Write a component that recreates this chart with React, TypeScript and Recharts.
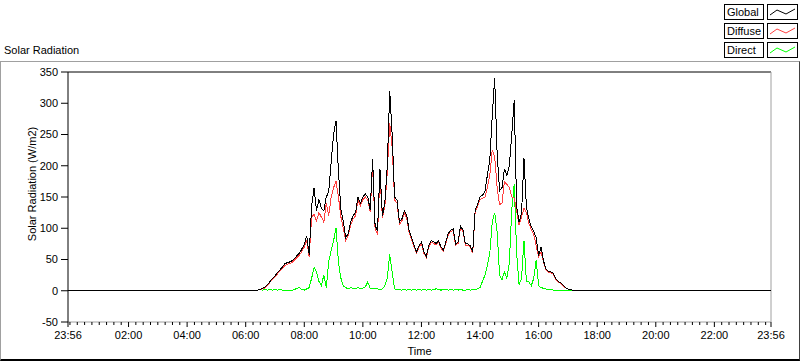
import React from 'react';
import { LineChart, Line, XAxis, YAxis, ReferenceLine } from 'recharts';

// minutes after midnight, 5 min samples from 06:00
const START_MIN = 360;
const STEP_MIN = 5;
const DAY_START = -4; // 23:56 of previous day
const DAY_END = 1436; // 23:56

const globalVals = [
  0, 0, 0, 0, 1, 1, 2, 4, 6, 10,
  15, 20, 24, 29, 33, 38, 43, 45, 46, 48,
  52, 56, 60, 67, 74, 88, 58, 135, 165, 128,
  146, 132, 128, 150, 158, 205, 250, 272, 190, 130,
  110, 85, 92, 110, 120, 125, 150, 140, 150, 155,
  150, 130, 210, 105, 95, 195, 120, 140, 200, 320,
  250, 150, 145, 110, 115, 128, 120, 95, 85, 72,
  62, 72, 78, 62, 55, 72, 80, 78, 76, 80,
  70, 65, 78, 92, 97, 99, 75, 78, 104, 97,
  75, 75, 72, 62, 129, 138, 150, 153, 158, 185,
  210, 280, 340, 220, 160, 165, 195, 185, 200, 250,
  305, 135, 110, 124, 212, 134, 115, 102, 95, 85,
  56, 70, 48, 35, 31, 30, 28, 19, 15, 13,
  9, 5, 3, 2, 1, 0, 0,
];

const diffuseVals = [
  0, 0, 0, 0, 0, 1, 2, 3, 5, 9,
  14, 18, 22, 27, 31, 36, 40, 42, 44, 45,
  49, 53, 57, 63, 70, 80, 54, 118, 122, 112,
  125, 118, 110, 140, 120, 150, 165, 175, 150, 118,
  100, 80, 88, 105, 115, 120, 145, 136, 146, 150,
  145, 126, 200, 100, 90, 185, 116, 135, 190, 268,
  230, 145, 140, 106, 112, 124, 116, 92, 82, 70,
  60, 70, 75, 60, 53, 70, 78, 76, 73, 78,
  68, 63, 76, 90, 95, 96, 73, 76, 100, 95,
  73, 73, 70, 60, 126, 135, 146, 148, 150, 165,
  185, 225, 215, 165, 138, 140, 175, 170, 165, 150,
  148, 128, 105, 118, 132, 125, 108, 98, 90, 72,
  54, 62, 46, 34, 30, 29, 27, 18, 14, 12,
  8, 5, 3, 2, 1, 0, 0,
];

const directVals = [
  0, 0, 0, 1, 1, 1, 2, 1, 2, 1,
  2, 1, 2, 1, 2, 1, 0, 1, 0, 1,
  2, 4, 5, 2, 1, 3, 5, 20, 37, 30,
  15, 8, 25, 5, 46, 65, 80, 100, 45, 20,
  8, 5, 3, 5, 4, 3, 5, 3, 4, 6,
  14, 4, 3, 4, 3, 2, 3, 8, 20, 58,
  30, 3, 2, 2, 1, 2, 1, 2, 1, 2,
  1, 2, 1, 2, 1, 2, 1, 2, 3, 2,
  1, 2, 2, 1, 2, 1, 2, 1, 2, 1,
  1, 2, 1, 2, 2, 3, 5, 15, 25, 40,
  60, 110, 125, 95, 25, 18, 30, 20, 45, 130,
  170, 60, 10, 20, 80, 15, 14, 8, 20, 49,
  8, 5, 4, 3, 2, 2, 1, 1, 1, 1,
  0, 0, 0, 0, 0, 0, 0,
];

const majorTicks = [-4, 120, 240, 360, 480, 600, 720, 840, 960, 1080, 1200, 1320, 1436];
const majorLabels = ['23:56', '02:00', '04:00', '06:00', '08:00', '10:00', '12:00', '14:00', '16:00', '18:00', '20:00', '22:00', '23:56'];
const yTicks = [-50, 0, 50, 100, 150, 200, 250, 300, 350];

const seriesNames = ['Global', 'Diffuse', 'Direct'];
const seriesColors = ['#000000', '#ff4040', '#00ff00'];

const FONT = '"Liberation Sans", Arial, sans-serif';

const dayTimes = globalVals.map((_, i) => START_MIN + i * STEP_MIN);
const data = [
  { t: DAY_START, global: 0, diffuse: 0, direct: 0 },
  ...dayTimes.map((t, i) => ({ t, global: globalVals[i], diffuse: diffuseVals[i], direct: directVals[i] })),
  { t: DAY_END, global: 0, diffuse: 0, direct: 0 },
];

// minor ticks every 15 min plus the 23:56 ends
const minorTicks: number[] = [];
for (let m = 0; m < 1440; m += 15) minorTicks.push(m);
const allTicks = [...new Set([...majorTicks, ...minorTicks])].sort((a, b) => a - b);

const TimeTick = (props: any) => {
  const { x, y, payload } = props;
  const idx = majorTicks.indexOf(payload.value);
  const major = idx >= 0;
  return (
    <g>
      <line x1={x} x2={x} y1={y} y2={y + (major ? 5 : 3)} stroke="#000" />
      {major && (
        <text x={x} y={y + 17} textAnchor="middle" fontSize={11} fontFamily={FONT} fill="#000">
          {majorLabels[idx]}
        </text>
      )}
    </g>
  );
};

const YTitle = () => (
  <text x={36} y={184} transform="rotate(-90 36 184)" textAnchor="middle" fontSize={11} fontFamily={FONT} fill="#000">
    Solar Radiation (W/m2)
  </text>
);

const Swatch = ({ color }: { color: string }) => (
  <svg width={29} height={14} style={{ display: 'block' }}>
    <polyline points="2,10 9,5 18,9 27,4" fill="none" stroke={color} strokeWidth={1} />
  </svg>
);

export default function App() {
  return (
    <div style={{ position: 'absolute', left: 0, top: 0, width: 800, height: 361, background: '#fff', fontFamily: FONT, overflow: 'hidden' }}>
      <style>{'.recharts-line-curve{shape-rendering:crispEdges}'}</style>
      <div style={{ position: 'absolute', left: 4, top: 44, fontSize: 11, color: '#000' }}>Solar Radiation</div>
      <div
        style={{
          position: 'absolute',
          left: 0,
          top: 61,
          width: 800,
          height: 300,
          boxSizing: 'border-box',
          borderTop: '1px solid #a0a0a0',
          borderLeft: '1px solid #a0a0a0',
          borderRight: '1px solid #404040',
          borderBottom: '2px solid #000',
        }}
      />
      {seriesNames.map((name, i) => (
        <div key={name}>
          <div
            style={{
              position: 'absolute',
              left: 724,
              top: 4 + i * 19,
              width: 40,
              height: 16,
              boxSizing: 'border-box',
              border: '1px solid #000',
              fontSize: 11,
              lineHeight: '14px',
              paddingLeft: 2,
              background: '#fff',
            }}
          >
            {name}
          </div>
          <div
            style={{
              position: 'absolute',
              left: 767,
              top: 4 + i * 19,
              width: 31,
              height: 16,
              boxSizing: 'border-box',
              border: '1px solid #000',
              background: '#fff',
            }}
          >
            <Swatch color={seriesColors[i]} />
          </div>
        </div>
      ))}
      <div style={{ position: 'absolute', left: 0, top: 0 }}>
        <LineChart width={800} height={361} data={data} margin={{ top: 72, right: 29, bottom: 0, left: 0 }}>
          <XAxis
            dataKey="t"
            type="number"
            domain={[DAY_START, DAY_END]}
            ticks={allTicks}
            interval={0}
            height={39}
            tickSize={0}
            tickMargin={0}
            tickLine={false}
            tick={<TimeTick />}
            axisLine={{ stroke: '#a0a0a0' }}
            label={{ value: 'Time', position: 'insideBottom', offset: 6, fontSize: 11, fontFamily: FONT, fill: '#000' }}
          />
          <YAxis
            type="number"
            domain={[-50, 350]}
            ticks={yTicks}
            interval={0}
            width={68}
            tickSize={7}
            tickMargin={3}
            tickLine={{ stroke: '#000' }}
            axisLine={{ stroke: '#000' }}
            tick={{ fontSize: 11, fontFamily: FONT, fill: '#000' }}
            label={<YTitle />}
          />
          <ReferenceLine y={350} stroke="#000" />
          <ReferenceLine x={DAY_END} stroke="#a0a0a0" />
          <Line type="linear" dataKey="direct" stroke={seriesColors[2]} dot={false} strokeWidth={1} isAnimationActive={false} />
          <Line type="linear" dataKey="diffuse" stroke={seriesColors[1]} dot={false} strokeWidth={1} isAnimationActive={false} />
          <Line type="linear" dataKey="global" stroke={seriesColors[0]} dot={false} strokeWidth={1} isAnimationActive={false} />
        </LineChart>
      </div>
    </div>
  );
}
